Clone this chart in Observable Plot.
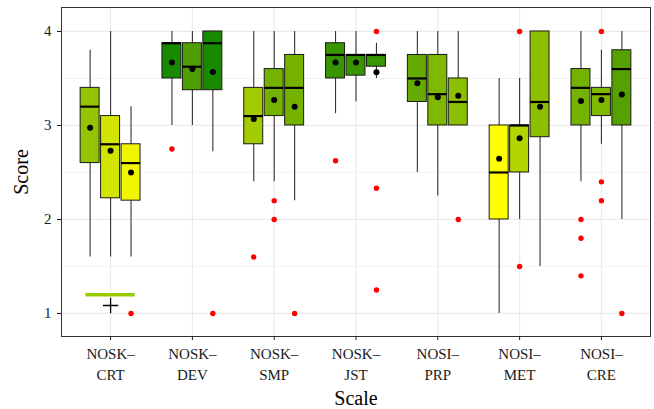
<!DOCTYPE html>
<html>
<head>
<meta charset="utf-8">
<script src="https://cdn.jsdelivr.net/npm/d3@7"></script>
<script src="https://cdn.jsdelivr.net/npm/@observablehq/plot@0.6"></script>
<style>
  html, body { margin: 0; padding: 0; background: #fff; }
  #chart { width: 654px; height: 409px; }
  #chart svg, #chart svg text { font-family: "Liberation Serif", "DejaVu Serif", serif !important; }
</style>
</head>
<body>
<div id="chart"></div>
<script>
// Categories (x axis)
const scales = ["NOSK-CRT", "NOSK-DEV", "NOSK-SMP", "NOSK-JST", "NOSI-PRP", "NOSI-MET", "NOSI-CRE"];
const tickLabels = ["NOSK–\nCRT", "NOSK–\nDEV", "NOSK–\nSMP", "NOSK–\nJST", "NOSI–\nPRP", "NOSI–\nMET", "NOSI–\nCRE"];
const yTicks = [1, 2, 3, 4];
// Three boxes per scale (scale-major order)
const subgroup = [0, 1, 2];

const lowWhisker  = [1.6, 1.6, 1.6,   3.0, 3.0, 2.72,   2.4, 2.4, 2.2,   3.125, 3.25, 3.5,   2.5, 2.25, 3.0,   1.0, 2.0, 1.5,   2.4, 2.8, 2.0];
const q1          = [2.6, 2.225, 2.2, 3.5, 3.375, 3.375, 2.8, 3.1, 3.0,  3.5, 3.53, 3.625,   3.25, 3.0, 3.0,   2.0, 2.5, 2.875, 3.0, 3.1, 3.0];
const median      = [3.2, 2.8, 2.6,   3.875, 3.625, 3.875, 3.1, 3.4, 3.4, 3.75, 3.75, 3.75,  3.5, 3.333, 3.25, 2.5, 3.0, 3.25,  3.4, 3.333, 3.6];
const q3          = [3.4, 3.1, 2.8,   3.875, 3.875, 4.0, 3.4, 3.6, 3.75,  3.875, 3.75, 3.75,  3.75, 3.75, 3.5,  3.0, 3.0, 4.0,   3.6, 3.4, 3.8];
const highWhisker = [3.8, 4.0, 3.2,   4.0, 4.0, 4.0,   4.0, 4.0, 4.0,    4.0, 4.0, 3.875,    4.0, 4.0, 4.0,    3.5, 3.5, 4.0,   4.0, 3.8, 4.0];
const means       = [2.975, 2.73, 2.5, 3.67, 3.6, 3.57, 3.07, 3.27, 3.2, 3.67, 3.67, 3.565, 3.45, 3.3, 3.315, 2.645, 2.865, 3.2, 3.26, 3.27, 3.33];

// Outliers: box index and value
const outlierBox   = [2,   3,    5,   6,   7,   7,   8,   9,     11,  11,    11,   14,  16,  16,  18,  18,  18,  19,  19,  19,  20];
const outlierValue = [1.0, 2.75, 1.0, 1.6, 2.2, 2.0, 1.0, 2.625, 4.0, 2.333, 1.25, 2.0, 4.0, 1.5, 2.0, 1.8, 1.4, 4.0, 2.4, 2.2, 1.0];

// Annotation near NOSK-CRT (green line and plus sign)
const annotLineY = [1.2];
const annotPlus = [{cat: 0, y: 1.085}];

const serif = "'Liberation Serif', 'DejaVu Serif', serif";
const dodge = 0.25, half = 0.116;
const pos = i => Math.floor(i / 3) + (subgroup[i % 3] - 1) * dodge;
const fillOf = d3.scaleLinear().domain([2.5, 3.875]).range(["#ffff00", "#178a00"]).interpolate(d3.interpolateLab).clamp(true);

const boxes = median.map((m, i) => ({
  scale: scales[Math.floor(i / 3)], pos: pos(i),
  lo: lowWhisker[i], q1: q1[i], med: m, q3: q3[i], hi: highWhisker[i], mean: means[i]
}));
const outliers = outlierValue.map((v, k) => ({pos: pos(outlierBox[k]), v}));

const chart = Plot.plot({
  width: 654, height: 409,
  marginLeft: 61, marginRight: 4, marginTop: 7, marginBottom: 73,
  x: {domain: [-0.6, 6.6]},
  y: {domain: [0.755, 4.255]},
  color: {type: "identity"},
  style: {fontFamily: serif, background: "#fff", color: "#000"},
  marks: [
    Plot.ruleY([1.5, 2.5, 3.5], {stroke: "#ebebeb", strokeWidth: 0.6}),
    Plot.ruleY(yTicks, {stroke: "#ebebeb", strokeWidth: 1.2}),
    Plot.ruleX(d3.range(scales.length), {stroke: "#ebebeb", strokeWidth: 1.2}),
    Plot.ruleX(boxes, {x: "pos", y1: "lo", y2: "hi", stroke: "#333", strokeWidth: 1.1}),
    Plot.rect(boxes, {x1: d => d.pos - half, x2: d => d.pos + half, y1: "q1", y2: "q3", fill: d => fillOf(d.med), stroke: "#1a1a1a", strokeWidth: 1}),
    Plot.ruleY(boxes, {y: "med", x1: d => d.pos - half, x2: d => d.pos + half, stroke: "#000", strokeWidth: 2.2}),
    Plot.dot(boxes, {x: "pos", y: "mean", r: 3, fill: "#000"}),
    Plot.dot(outliers, {x: "pos", y: "v", r: 2.7, fill: "#ff0000"}),
    Plot.ruleY(annotLineY, {x1: -0.3, x2: 0.3, stroke: "#99cc00", strokeWidth: 3.5}),
    Plot.dot(annotPlus, {x: "cat", y: "y", symbol: "plus", r: 5, stroke: "#000", strokeWidth: 1.3}),
    Plot.frame({stroke: "#333", strokeWidth: 1}),
    Plot.axisY({ticks: yTicks, tickFormat: d => String(d), tickSize: 4, tickPadding: 6, fontSize: 15, fontFamily: serif, label: null, color: "#1a1a1a"}),
    Plot.axisX({ticks: d3.range(scales.length), tickFormat: i => tickLabels[i], tickSize: 4, tickPadding: 4, fontSize: 15, fontFamily: serif, lineHeight: 1.4, label: null, color: "#1a1a1a"}),
    Plot.text(["Score"], {frameAnchor: "left", dx: -40, rotate: -90, fontSize: 20, fontFamily: serif, lineAnchor: "middle", textAnchor: "middle", fill: "#000"}),
    Plot.text(["Scale"], {frameAnchor: "bottom", dy: 62, fontSize: 20, fontFamily: serif, lineAnchor: "middle", textAnchor: "middle", fill: "#000"})
  ]
});
document.getElementById("chart").append(chart);
</script>
</body>
</html>
